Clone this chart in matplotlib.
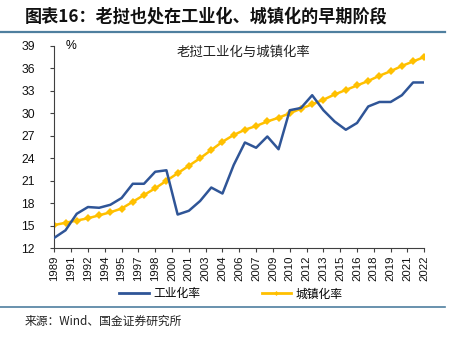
import numpy as np
import matplotlib
matplotlib.use("Agg")
import matplotlib.pyplot as plt
from matplotlib.lines import Line2D

plt.rcParams['font.family'] = ['Liberation Sans', 'Noto Sans CJK SC', 'DejaVu Sans']

years = list(range(1989, 2023))
industrialization = [13.4, 14.4, 16.6, 17.5, 17.4, 17.8, 18.7, 20.6, 20.6, 22.2,
                     22.4, 16.5, 17.0, 18.3, 20.1, 19.3, 23.1, 26.1, 25.4, 26.9,
                     25.2, 30.4, 30.7, 32.4, 30.4, 28.9, 27.8, 28.7, 30.9, 31.5,
                     31.5, 32.4, 34.1, 34.1]
urbanization = [15.1, 15.4, 15.7, 16.0, 16.4, 16.8, 17.3, 18.2, 19.1, 20.0,
                21.0, 22.0, 23.0, 24.0, 25.1, 26.2, 27.1, 27.8, 28.3, 28.9,
                29.4, 30.0, 30.6, 31.2, 31.8, 32.5, 33.1, 33.7, 34.3, 35.0,
                35.6, 36.3, 36.9, 37.5]
tick_labels = ['1989', '1991', '1992', '1994', '1995', '1997', '1998', '2000',
               '2001', '2003', '2004', '2006', '2007', '2009', '2010', '2012',
               '2013', '2015', '2016', '2018', '2019', '2021', '2022']
y_ticks = [12, 15, 18, 21, 24, 27, 30, 33, 36, 39]

title = "图表16：老挝也处在工业化、城镇化的早期阶段"
chart_title = "老挝工业化与城镇化率"
series_names = ["工业化率", "城镇化率"]
source = "来源：Wind、国金证券研究所"

blue = "#2f5597"
gold = "#ffc000"
rule = "#4f7f9f"
cjk = ['Noto Sans CJK SC', 'DejaVu Sans']

fig = plt.figure(figsize=(4.56, 3.38), dpi=100)
ax = fig.add_axes([54.3 / 456, 1 - 248.3 / 338, 370 / 456, 202.6 / 338])

ax.plot(years, industrialization, color=blue, lw=1.8, zorder=3)
ax.plot(years, urbanization, color=gold, lw=1.8, marker='D', ms=4.5,
        markeredgewidth=0, zorder=2)

ax.set_xlim(1989, 2022)
ax.set_ylim(12, 39)
ax.set_yticks(y_ticks)
ax.set_yticklabels([str(v) for v in y_ticks], fontsize=8.8)
ax.set_xticks(np.linspace(1989, 2022, len(tick_labels)))
ax.set_xticklabels(tick_labels, rotation=90, fontsize=8.2)

for s in ['top', 'right']:
    ax.spines[s].set_visible(False)
for s in ['left', 'bottom']:
    ax.spines[s].set_color('#404040')
    ax.spines[s].set_linewidth(0.8)
ax.tick_params(axis='both', direction='out', length=3, width=0.8,
               color='#404040', labelcolor='#111111', pad=2)
ax.tick_params(axis='y', pad=11)

ax.text(0.03, 1.0, "%", transform=ax.transAxes, fontsize=8.8,
        ha='left', va='center')
ax.text(0.51, 0.97, chart_title, transform=ax.transAxes, fontsize=9.6,
        ha='center', va='center', family=cjk, color='#222222')

# Header and footer
fig.text(25 / 456, 1 - 17 / 338, title, fontsize=12.3, fontweight='bold',
         family=cjk, ha='left', va='center', color='#111111')
fig.add_artist(Line2D([0, 445 / 456], [1 - 32 / 338, 1 - 32 / 338],
                      color=rule, lw=1.6, transform=fig.transFigure))
fig.add_artist(Line2D([0, 445 / 456], [1 - 307 / 338, 1 - 307 / 338],
                      color=rule, lw=1.2, transform=fig.transFigure))
fig.text(25 / 456, 1 - 321 / 338, source, fontsize=8.5, family=cjk,
         ha='left', va='center', color='#222222')

# Legend
handles = [Line2D([], [], color=blue, lw=2),
           Line2D([], [], color=gold, lw=2, marker='D', ms=2.5,
                  markeredgewidth=0)]
fig.legend(handles, series_names, loc='center', ncol=2,
           bbox_to_anchor=(231 / 456, 1 - 294 / 338), frameon=False,
           prop={'family': cjk, 'size': 8.5}, handlelength=2.5,
           handletextpad=0.4, columnspacing=5.2)

fig.savefig("out.png", dpi=100)
